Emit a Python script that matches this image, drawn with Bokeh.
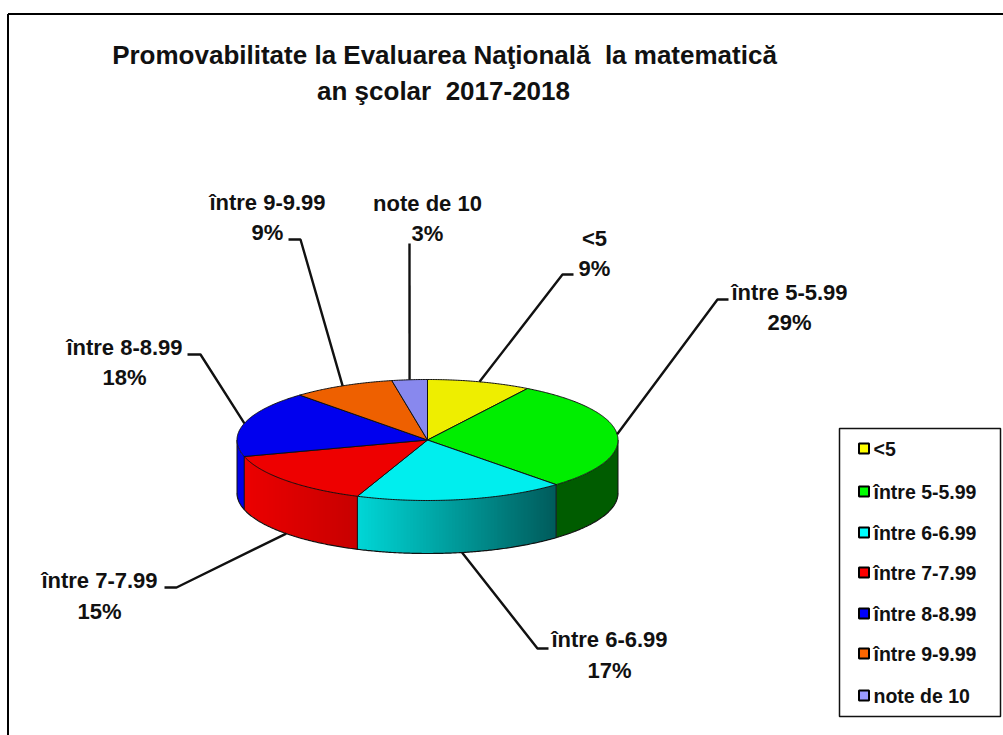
import math
from bokeh.plotting import figure
from bokeh.models import Range1d
from bokeh.core.properties import value
from bokeh.embed import file_html
from bokeh.resources import INLINE

# ---- data
categories = ["<5", "între 5-5.99", "între 6-6.99", "între 7-7.99", "între 8-8.99", "între 9-9.99", "note de 10"]
percent = [9, 29, 17, 15, 18, 9, 3]                    # as printed on the labels
slice_share = [8.8, 29.4, 17.8, 14.6, 17.7, 8.7, 3.0]
title_lines = ["Promovabilitate la Evaluarea Naţională \u00a0la matematică", "an şcolar \u00a02017-2018"]

# ---- styles
top_colors = ["#EEEE00", "#00EE00", "#00EEEE", "#EE0000", "#0000EE", "#EE6000", "#8888EE"]
key_colors = ["#FFFF00", "#00FF00", "#00FFFF", "#FF0000", "#0000FF", "#FF6600", "#9999FF"]
# wall shade at the slice's right and left ends
wall_shades = [None, ((0, 92, 0), (0, 92, 0)), ((0, 92, 92), (0, 215, 215)), ((200, 0, 0), (236, 0, 0)),
               ((0, 0, 230), (0, 0, 230)), None, None]

# ---- layout (pixel space of the picture)
CX, CY, RX, RY, DEPTH = 427, 439.5, 190.5, 60.5, 53
FONT = value("Liberation Sans")
elbows = [[(562, 274), (573, 274)], [(717, 299), (728, 299)], [(537, 648), (548, 648)], [(176, 587), (164, 587)],
          [(200, 354), (187, 354)], [(300, 239), (288, 239)], [(409, 243)]]
label_pos = [(594, 238, 268), (789, 292, 322), (609, 639, 670), (99, 580, 611),
             (124, 347, 377), (267, 202, 232), (427, 203, 233)]
key_rows = [448, 491, 532, 572, 613, 653, 695]

p = figure(width=1003, height=735, output_backend="svg", toolbar_location=None,
           x_range=Range1d(0, 1003), y_range=Range1d(735, 0), min_border=0)
p.axis.visible = False
p.grid.visible = False
p.outline_line_color = None
p.background_fill_color = "white"


def pt(deg, dz=0):
    a = math.radians(deg)
    return CX + RX * math.sin(a), CY - RY * math.cos(a) + dz


def arc(a0, a1, dz=0):
    n = max(2, int(abs(a1 - a0) * 2) + 1)
    return [pt(a0 + (a1 - a0) * i / (n - 1), dz) for i in range(n)]


# slice boundaries in degrees, clockwise from the top
total = sum(slice_share)
edges = [0.0]
for v in slice_share:
    edges.append(edges[-1] + 360.0 * v / total)

# frame
p.line([7.5, 7.5], [13.5, 735], line_color="black", line_width=2)
p.line([7.5, 1003], [13.5, 13.5], line_color="black", line_width=2)

# side walls: visible front half only, one solid shape or pixel columns for a gradient
for i, shade in enumerate(wall_shades):
    a0, a1 = max(edges[i], 90), min(edges[i + 1], 270)
    if shade is None or a0 >= a1:
        continue
    if shade[0] == shade[1]:
        pts = arc(a0, a1) + arc(a1, a0, DEPTH)
        hexc = "#%02x%02x%02x" % shade[0]
        p.patch([q[0] for q in pts], [q[1] for q in pts], fill_color=hexc, line_color=None)
        continue
    xa, xb = pt(a1)[0], pt(a0)[0]
    left, right, top, bot, cols = [], [], [], [], []
    x = math.floor(xa)
    while x < xb:
        u = min(1.0, abs(x + 0.5 - CX) / RX)
        yc = CY + RY * math.sqrt(1 - u * u)
        t = (xb - x - 0.5) / (xb - xa)
        t = max(0.0, min(1.0, t))
        col = tuple(int(shade[0][c] + (shade[1][c] - shade[0][c]) * t) for c in range(3))
        left.append(x)
        right.append(min(x + 2, xb))
        top.append(yc - 2)
        bot.append(yc + DEPTH)
        cols.append("#%02x%02x%02x" % col)
        x += 1
    p.quad(left=left, right=right, top=top, bottom=bot, fill_color=cols, fill_alpha=1.0, line_color=None)

# wall outlines
bottom = arc(90, 270, DEPTH)
p.line([q[0] for q in bottom], [q[1] for q in bottom], line_color="#111111", line_width=1.2)
for deg in [90, 270] + [e for e in edges if 90 < e < 270]:
    q0, q1 = pt(deg), pt(deg, DEPTH)
    p.line([q0[0], q1[0]], [q0[1], q1[1]], line_color="#111111", line_width=1)

# top face
xs, ys = [], []
for i in range(len(slice_share)):
    pts = [(CX, CY)] + arc(edges[i], edges[i + 1]) + [(CX, CY)]
    xs.append([q[0] for q in pts])
    ys.append([q[1] for q in pts])
p.patches(xs, ys, fill_color=top_colors, fill_alpha=1.0, line_color="#111111", line_width=1)

# leader lines, anchored on each slice's mid-angle
lx, ly = [], []
for i in range(len(slice_share)):
    mid = (edges[i] + edges[i + 1]) / 2
    start = pt(mid, DEPTH if 90 < mid < 270 else 0)
    path = [start] + elbows[i]
    lx.append([q[0] for q in path])
    ly.append([q[1] for q in path])
p.multi_line(lx, ly, line_color="#111111", line_width=2.4)

# data labels
for i, (name, v) in enumerate(zip(categories, percent)):
    x, y0, y1 = label_pos[i]
    p.text([x, x], [y0, y1], text=[name, f"{v}%"], text_font=FONT, text_font_style="bold",
           text_font_size="22px", text_align="center", text_baseline="middle", text_color="#111111")

# title
p.text([444, 443], [54, 90], text=title_lines, text_font=FONT, text_font_style="bold",
       text_font_size="26px", text_align="center", text_baseline="middle", text_color="#111111")

# legend box
p.quad(left=[839], right=[1000], top=[428], bottom=[716], fill_color="white", line_color="#111111", line_width=1.5)
p.rect([863.5] * 7, key_rows, width=10, height=10, fill_color=key_colors, line_color="black", line_width=2)
p.text([873] * 7, key_rows, text=categories, text_font=FONT, text_font_style="bold",
       text_font_size="19.5px", text_align="left", text_baseline="middle", text_color="#111111")

open("out.html", "w").write(file_html(p, INLINE))
